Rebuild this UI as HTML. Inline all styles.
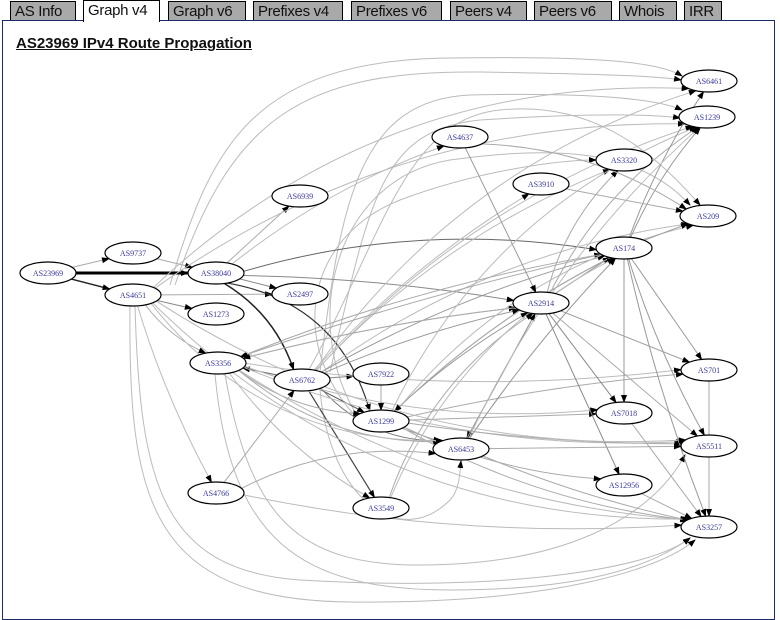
<!DOCTYPE html>
<html><head><meta charset="utf-8"><style>
body{margin:0;background:#fff;width:780px;height:615px;overflow:hidden;font-family:"Liberation Sans",Arial,sans-serif}
.tab{position:absolute;top:1px;height:19px;background:#a9a9a9;border:1px solid #000;border-bottom:none;font-size:15px;line-height:19px;padding:0 4px;color:#111;box-sizing:border-box;white-space:nowrap;overflow:hidden;letter-spacing:-0.3px}
.tab.on{background:#fff;top:0;height:22px;z-index:2;border-color:#000}
#panel{position:absolute;left:2px;top:20px;width:773px;height:600px;border:1px solid #1a2a6a;box-sizing:border-box;background:#fff}
h1{position:absolute;left:16px;top:35px;margin:0;font-size:15px;font-weight:bold;text-decoration:underline;color:#111}
svg{position:absolute;left:0;top:0}
</style></head><body>
<div id="panel"></div>
<div class="tab" style="left:10px;width:66px">AS Info</div>
<div class="tab on" style="left:83px;width:77px">Graph v4</div>
<div class="tab" style="left:168px;width:78px">Graph v6</div>
<div class="tab" style="left:253px;width:90px">Prefixes v4</div>
<div class="tab" style="left:351px;width:91px">Prefixes v6</div>
<div class="tab" style="left:450px;width:77px">Peers v4</div>
<div class="tab" style="left:534px;width:78px">Peers v6</div>
<div class="tab" style="left:619px;width:58px">Whois</div>
<div class="tab" style="left:684px;width:38px">IRR</div>
<h1>AS23969 IPv4 Route Propagation</h1>
<svg id="g" width="780" height="615" viewBox="0 0 780 615">
<defs>
<marker id="a" markerWidth="8" markerHeight="6" refX="7" refY="3" orient="auto" markerUnits="userSpaceOnUse"><path d="M0,0L8,3L0,6z" fill="#000"/></marker>
</defs>
<g fill="none" stroke="#bbb" stroke-width="1">
<path d="M170,285 C210,150 250,60 450,58 C600,56 660,62 682,76" marker-end="url(#a)"/>
<path d="M175,285 C230,120 300,70 480,72 C600,74 660,76 681,80" marker-end="url(#a)"/>
<path d="M320,372 C340,200 360,100 470,95 C600,92 660,100 682,110" marker-end="url(#a)"/>
<path d="M330,372 C370,200 380,130 480,120 C600,112 660,115 680,118" marker-end="url(#a)"/>
<path d="M135,306 C140,480 160,570 300,580 C500,592 650,570 690,538" marker-end="url(#a)"/>
<path d="M130,306 C128,500 150,600 350,602 C550,604 660,570 695,540" marker-end="url(#a)"/>
<path d="M225,374 C250,520 300,565 420,565 C560,565 650,520 685,455" marker-end="url(#a)"/>
<path d="M215,374 C230,540 300,590 450,590 C600,590 660,560 690,538" marker-end="url(#a)"/>
<path d="M320,390 C330,500 400,550 450,500 C460,490 460,470 461,461" marker-end="url(#a)"/>
<path d="M360,421 C290,350 300,240 400,200 C480,170 560,160 596,160" marker-end="url(#a)"/>
<path d="M360,420 C300,330 330,180 450,160 C560,145 640,150 690,205" marker-end="url(#a)"/>
<path d="M300,385 C380,250 400,120 500,110 C600,100 660,160 700,205" marker-end="url(#a)"/>
</g>
<g id="e" fill="none"></g><g id="n"></g>
</svg>
<script>
var N={AS23969:[48,273],AS9737:[133,253],AS4651:[133,295],AS38040:[216,273],AS2497:[300,294],AS1273:[216,314],AS3356:[218,363],AS6762:[302,380],AS6939:[300,196],AS4637:[460,137],AS3910:[541,184],AS3320:[624,160],AS6461:[709,81],AS1239:[707,117],AS209:[708,216],AS174:[624,248],AS2914:[541,303],AS7922:[381,374],AS1299:[381,421],AS6453:[461,449],AS7018:[624,413],AS12956:[624,485],AS701:[709,370],AS5511:[709,446],AS3257:[709,527],AS4766:[216,493],AS3549:[381,508]};
var E=[["AS23969","AS9737",0,"#aaa",1],["AS23969","AS38040",0,"#000",3],["AS23969","AS4651",0,"#222",1.5],["AS9737","AS38040",0,"#aaa",1],
["AS4651","AS2497",0,"#aaa",1],["AS4651","AS1273",0,"#888",1],["AS4651","AS3356",10,"#aaa",1],["AS38040","AS2497",0,"#888",1],["AS38040","AS6762",-20,"#222",1.5],["AS38040","AS1299",-60,"#333",1.2],["AS38040","AS6939",0,"#aaa",1],["AS38040","AS174",-40,"#666",1],["AS38040","AS2914",-10,"#888",1],
["AS4651","AS6461",-120,"#bbb",1],["AS4651","AS1239",-90,"#bbb",1],["AS38040","AS4637",-20,"#bbb",1],["AS6762","AS3356",0,"#666",1],["AS6762","AS7922",0,"#888",1],["AS6762","AS1299",0,"#555",1],["AS6762","AS3549",0,"#444",1.2],["AS6762","AS6453",30,"#777",1],
["AS6762","AS6461",-80,"#bbb",1],["AS6762","AS1239",-60,"#bbb",1],["AS6762","AS3320",-40,"#bbb",1],["AS6762","AS3910",-20,"#bbb",1],["AS6762","AS209",-50,"#bbb",1],["AS6762","AS174",-20,"#999",1],["AS6762","AS2914",-10,"#999",1],
["AS3356","AS2914",-10,"#aaa",1],["AS3356","AS174",-20,"#aaa",1],["AS3356","AS1299",20,"#aaa",1],["AS3356","AS6453",40,"#aaa",1],["AS3356","AS3257",60,"#bbb",1],["AS3356","AS5511",50,"#bbb",1],["AS3356","AS701",30,"#bbb",1],["AS3356","AS7018",40,"#bbb",1],["AS3356","AS3549",20,"#bbb",1],
["AS1299","AS2914",-10,"#999",1],["AS1299","AS174",-20,"#999",1],["AS1299","AS6453",0,"#999",1],["AS1299","AS3257",30,"#aaa",1],["AS1299","AS5511",10,"#aaa",1],["AS1299","AS701",-10,"#aaa",1],["AS1299","AS7018",0,"#aaa",1],["AS1299","AS12956",20,"#aaa",1],["AS1299","AS1239",-80,"#bbb",1],["AS1299","AS209",-60,"#bbb",1],
["AS2914","AS3356",10,"#aaa",1],["AS2914","AS174",0,"#999",1],["AS2914","AS3320",-20,"#aaa",1],["AS2914","AS1239",-30,"#aaa",1],["AS2914","AS701",0,"#999",1],["AS2914","AS7018",0,"#888",1],["AS2914","AS12956",0,"#888",1],["AS2914","AS6453",0,"#999",1],["AS2914","AS5511",0,"#aaa",1],
["AS174","AS209",0,"#999",1],["AS174","AS1239",-10,"#999",1],["AS174","AS6461",-10,"#999",1],["AS174","AS701",0,"#999",1],["AS174","AS5511",10,"#999",1],["AS174","AS3257",10,"#999",1],["AS174","AS7018",0,"#999",1],["AS174","AS3356",10,"#aaa",1],["AS174","AS1299",20,"#aaa",1],
["AS4637","AS2914",0,"#999",1],["AS4637","AS209",-30,"#aaa",1],["AS3910","AS209",0,"#aaa",1],["AS6453","AS174",-10,"#999",1],["AS6453","AS2914",0,"#999",1],["AS6453","AS5511",0,"#aaa",1],["AS6453","AS3257",10,"#aaa",1],["AS6453","AS1239",-40,"#bbb",1],
["AS4766","AS6762",0,"#aaa",1],["AS4766","AS6453",-30,"#aaa",1],["AS4766","AS3257",30,"#bbb",1],["AS4651","AS3257",120,"#bbb",1],["AS4651","AS5511",90,"#bbb",1],["AS4651","AS6453",80,"#bbb",1],["AS4651","AS4766",10,"#bbb",1],
["AS7922","AS1299",0,"#aaa",1],["AS3549","AS2914",-40,"#aaa",1],["AS12956","AS3257",0,"#aaa",1],["AS7018","AS3257",0,"#aaa",1],["AS701","AS3257",0,"#aaa",1],["AS3549","AS174",-60,"#bbb",1]];
var eg=document.getElementById('e'),ng=document.getElementById('n'),s='';
E.forEach(function(d){var p=N[d[0]],q=N[d[1]],dx=q[0]-p[0],dy=q[1]-p[1],L=Math.hypot(dx,dy),ux=dx/L,uy=dy/L;
var t1=1/Math.sqrt(ux*ux/784+uy*uy/121),x1=p[0]+ux*t1,y1=p[1]+uy*t1,x2=q[0]-ux*t1,y2=q[1]-uy*t1;
var mx=(x1+x2)/2-uy*d[2],my=(y1+y2)/2+ux*d[2];
s+='<path d="M'+x1+','+y1+'Q'+mx+','+my+' '+x2+','+y2+'" stroke="'+d[3]+'" stroke-width="'+d[4]+'" marker-end="url(#a)"/>';});
eg.innerHTML=s;s='';
for(var k in N){var c=N[k];s+='<ellipse cx="'+c[0]+'" cy="'+c[1]+'" rx="28" ry="11" fill="#fff" stroke="#000" stroke-width="1.2"/><text x="'+c[0]+'" y="'+(c[1]+3)+'" font-family="Liberation Serif,serif" font-size="8" fill="#3a3a9a" text-anchor="middle">'+k+'</text>';}
ng.innerHTML=s;
</script>
</body></html>
